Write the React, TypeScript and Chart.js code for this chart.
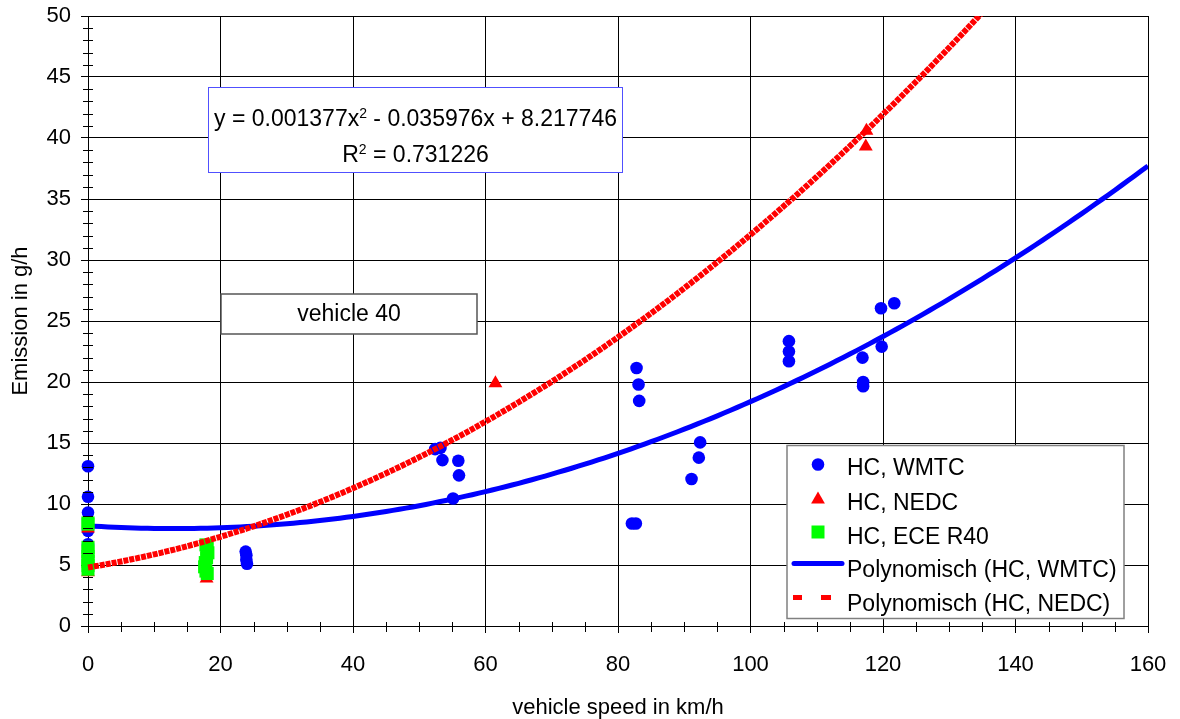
import { useEffect, useRef } from 'react';
import { Chart, registerables } from 'chart.js';

Chart.register(...registerables);

const FONT = '"Liberation Sans", Arial, Helvetica, sans-serif';
const BLUE = '#0000ff';
const RED = '#ff0000';
const GREEN = '#00ff00';

// HC emission measurements, vehicle 40
const wmtcSpeed = [0, 0, 0, 0, 0, 23.8, 23.9, 23.9, 24.0, 52.4, 53.2, 53.5, 55.9, 56.0, 55.1, 82.8, 83.1, 83.2, 82.1, 82.7, 91.1, 92.2, 92.4, 105.8, 105.8, 105.8, 116.9, 117.0, 117.0, 119.8, 119.7, 121.7];
const wmtcHC = [13.1, 10.6, 9.3, 7.8, 6.7, 6.1, 5.8, 5.4, 5.1, 14.5, 14.6, 13.6, 13.55, 12.35, 10.45, 21.15, 19.8, 18.45, 8.4, 8.4, 12.05, 13.8, 15.05, 23.35, 22.5, 21.7, 22.0, 20.0, 19.65, 22.9, 26.05, 26.45];

const nedcSpeed = [0, 0, 17.9, 61.5, 117.5, 117.4];
const nedcHC = [8.0, 4.4, 3.9, 19.9, 40.6, 39.3];

const eceSpeed = [0, 0, 0, 0, 0, 0, 0, 0, 17.8, 18.0, 18.1, 17.9, 17.7, 17.6, 17.8, 18.0];
const eceHC = [8.45, 8.35, 6.45, 6.1, 5.7, 5.3, 4.95, 4.65, 6.65, 6.35, 6.0, 5.6, 5.2, 4.85, 4.5, 4.3];

// Polynomial trend lines: coefficients for x^0, x^1, x^2
const wmtcFit = [8.217746, -0.035976, 0.001377];
const nedcFit = [4.8, 0.0889, 0.001838];

const xTickStep = 20;
const yTickStep = 5;
const xRange = [0, 160];
const yRange = [0, 50];

const legendLabels = ['HC, WMTC', 'HC, NEDC', 'HC, ECE R40', 'Polynomisch (HC, WMTC)', 'Polynomisch (HC, NEDC)'];

function pairs(xs: number[], ys: number[]) {
  return xs.map((x, i) => ({ x, y: ys[i] }));
}

function trend(coef: number[], from: number, to: number) {
  const pts: { x: number; y: number }[] = [];
  for (let x = from; x <= to; x += 1) {
    pts.push({ x, y: coef[0] + coef[1] * x + coef[2] * x * x });
  }
  return pts;
}

function drawRichLine(ctx: CanvasRenderingContext2D, parts: { t: string; sup?: boolean }[], cx: number, cy: number, size: number) {
  const supSize = Math.round(size * 0.6);
  const widths = parts.map((p) => {
    ctx.font = `${p.sup ? supSize : size}px ${FONT}`;
    return ctx.measureText(p.t).width;
  });
  const total = widths.reduce((a, b) => a + b, 0);
  let x = cx - total / 2;
  ctx.textBaseline = 'alphabetic';
  ctx.textAlign = 'left';
  const base = cy + size * 0.36;
  parts.forEach((p, i) => {
    ctx.font = `${p.sup ? supSize : size}px ${FONT}`;
    ctx.fillText(p.t, x, p.sup ? base - size * 0.34 : base);
    x += widths[i];
  });
}

const overlayPlugin = {
  id: 'overlay',
  afterDraw(chart: any) {
    const { ctx, chartArea } = chart;
    const xs = chart.scales.x;
    const ys = chart.scales.y;
    const { left, top, bottom } = chartArea;
    ctx.save();

    // minor tick marks
    ctx.strokeStyle = '#000';
    ctx.lineWidth = 1;
    ctx.beginPath();
    for (let v = yRange[0]; v <= yRange[1]; v += 1) {
      if (v % yTickStep === 0) continue;
      const py = Math.round(ys.getPixelForValue(v)) + 0.5;
      ctx.moveTo(left - 5, py);
      ctx.lineTo(left + 5, py);
    }
    for (let v = xRange[0]; v <= xRange[1]; v += 5) {
      if (v % xTickStep === 0) continue;
      const px = Math.round(xs.getPixelForValue(v)) + 0.5;
      ctx.moveTo(px, bottom - 4);
      ctx.lineTo(px, bottom + 6);
    }
    ctx.stroke();

    // regression equation box
    const eqL = left + 120.5;
    const eqT = top + 71.5;
    ctx.fillStyle = '#fff';
    ctx.fillRect(eqL, eqT, 414, 85);
    ctx.strokeStyle = '#5050ff';
    ctx.lineWidth = 1;
    ctx.strokeRect(eqL, eqT, 414, 85);
    ctx.fillStyle = '#000';
    const eqCx = eqL + 207;
    drawRichLine(ctx, [{ t: 'y = 0.001377x' }, { t: '2', sup: true }, { t: ' - 0.035976x + 8.217746' }], eqCx, top + 102, 23);
    drawRichLine(ctx, [{ t: 'R' }, { t: '2', sup: true }, { t: ' = 0.731226' }], eqCx, top + 138, 23);

    // vehicle label box
    const vL = left + 133;
    const vT = top + 278;
    ctx.fillStyle = '#fff';
    ctx.fillRect(vL, vT, 256, 40);
    ctx.strokeStyle = '#555';
    ctx.lineWidth = 1.5;
    ctx.strokeRect(vL, vT, 256, 40);
    ctx.fillStyle = '#000';
    ctx.font = `23px ${FONT}`;
    ctx.textAlign = 'center';
    ctx.textBaseline = 'middle';
    ctx.fillText('vehicle 40', vL + 128, vT + 21);

    // legend
    const lgL = left + 699;
    const lgT = top + 429.5;
    ctx.fillStyle = '#fff';
    ctx.fillRect(lgL, lgT, 337, 173);
    ctx.strokeStyle = '#808080';
    ctx.lineWidth = 1.5;
    ctx.strokeRect(lgL, lgT, 337, 173);

    const symX = lgL + 31;
    const rowY = [lgT + 19, lgT + 54, lgT + 88, lgT + 121, lgT + 155];
    // circle
    ctx.fillStyle = BLUE;
    ctx.beginPath();
    ctx.arc(symX, rowY[0], 6.3, 0, Math.PI * 2);
    ctx.fill();
    // triangle
    ctx.fillStyle = RED;
    ctx.beginPath();
    ctx.moveTo(symX, rowY[1] - 8);
    ctx.lineTo(symX + 6.9, rowY[1] + 4);
    ctx.lineTo(symX - 6.9, rowY[1] + 4);
    ctx.closePath();
    ctx.fill();
    // square
    ctx.fillStyle = GREEN;
    ctx.fillRect(symX - 6.5, rowY[2] - 8, 13, 13);
    // solid blue line
    ctx.strokeStyle = BLUE;
    ctx.lineWidth = 5;
    ctx.lineCap = 'round';
    ctx.beginPath();
    ctx.moveTo(lgL + 7, rowY[3] - 3);
    ctx.lineTo(lgL + 55, rowY[3] - 3);
    ctx.stroke();
    // dashed red line
    ctx.strokeStyle = RED;
    ctx.lineCap = 'butt';
    ctx.beginPath();
    ctx.moveTo(lgL + 6, rowY[4] - 3);
    ctx.lineTo(lgL + 15, rowY[4] - 3);
    ctx.moveTo(lgL + 34, rowY[4] - 3);
    ctx.lineTo(lgL + 44, rowY[4] - 3);
    ctx.stroke();

    ctx.fillStyle = '#000';
    ctx.font = `23px ${FONT}`;
    ctx.textAlign = 'left';
    ctx.textBaseline = 'middle';
    legendLabels.forEach((label, i) => {
      ctx.fillText(label, lgL + 60, rowY[i] + 4);
    });

    ctx.restore();
  },
};

export default function App() {
  const canvasRef = useRef<HTMLCanvasElement | null>(null);

  useEffect(() => {
    document.body.style.margin = '0';
    const canvas = canvasRef.current;
    if (!canvas) return;

    const chart = new Chart(canvas, {
      type: 'scatter',
      data: {
        datasets: [
          {
            label: 'Polynomisch (HC, NEDC)',
            data: trend(nedcFit, 0, 140),
            showLine: true,
            pointRadius: 0,
            borderColor: RED,
            borderWidth: 6,
            borderDash: [5, 1],
            borderCapStyle: 'butt',
            tension: 0,
            order: 0,
            clip: { left: 5, top: 0, right: 0, bottom: 5 },
          },
          {
            label: 'HC, ECE R40',
            data: pairs(eceSpeed, eceHC),
            pointStyle: 'rect',
            pointRadius: 9.2,
            backgroundColor: GREEN,
            borderWidth: 0,
            order: 1,
            clip: false,
          },
          {
            label: 'HC, NEDC',
            data: pairs(nedcSpeed, nedcHC),
            pointStyle: 'triangle',
            pointRadius: 8,
            backgroundColor: RED,
            borderWidth: 0,
            order: 2,
            clip: false,
          },
          {
            label: 'HC, WMTC',
            data: pairs(wmtcSpeed, wmtcHC),
            pointStyle: 'circle',
            pointRadius: 6.3,
            backgroundColor: BLUE,
            borderWidth: 0,
            order: 3,
            clip: false,
          },
          {
            label: 'Polynomisch (HC, WMTC)',
            data: trend(wmtcFit, 0, 160),
            showLine: true,
            pointRadius: 0,
            borderColor: BLUE,
            borderWidth: 5,
            tension: 0,
            order: 4,
          },
        ] as any,
      },
      options: {
        responsive: false,
        animation: false,
        devicePixelRatio: 1,
        events: [],
        layout: { autoPadding: false, padding: { top: 16, right: 32, left: 0, bottom: 0 } },
        plugins: {
          legend: { display: false },
          tooltip: { enabled: false },
        },
        scales: {
          x: {
            type: 'linear',
            min: xRange[0],
            max: xRange[1],
            ticks: {
              stepSize: xTickStep,
              color: '#000',
              font: { family: FONT, size: 22 },
              padding: 19,
              maxRotation: 0,
            },
            grid: { color: '#000', lineWidth: 1, tickLength: 7, tickColor: '#000' },
            border: { color: '#000', width: 1 },
            title: {
              display: true,
              text: 'vehicle speed in km/h',
              color: '#000',
              font: { family: FONT, size: 22 },
              padding: { top: 0, bottom: -2 },
            },
            afterFit(scale: any) {
              scale.height = 93;
              scale.paddingLeft = 0;
              scale.paddingRight = 0;
            },
          },
          y: {
            type: 'linear',
            min: yRange[0],
            max: yRange[1],
            ticks: {
              stepSize: yTickStep,
              color: '#000',
              font: { family: FONT, size: 22 },
              padding: 10,
            },
            grid: { color: '#000', lineWidth: 1, tickLength: 7, tickColor: '#000' },
            border: { color: '#000', width: 1 },
            title: {
              display: true,
              text: 'Emission in g/h',
              color: '#000',
              font: { family: FONT, size: 22 },
              padding: { top: 8, bottom: 0 },
            },
            afterFit(scale: any) {
              scale.width = 88;
              scale.paddingTop = 0;
              scale.paddingBottom = 0;
            },
          },
        },
      } as any,
      plugins: [overlayPlugin],
    });

    return () => chart.destroy();
  }, []);

  return <canvas ref={canvasRef} width={1180} height={719} style={{ display: 'block' }} />;
}
